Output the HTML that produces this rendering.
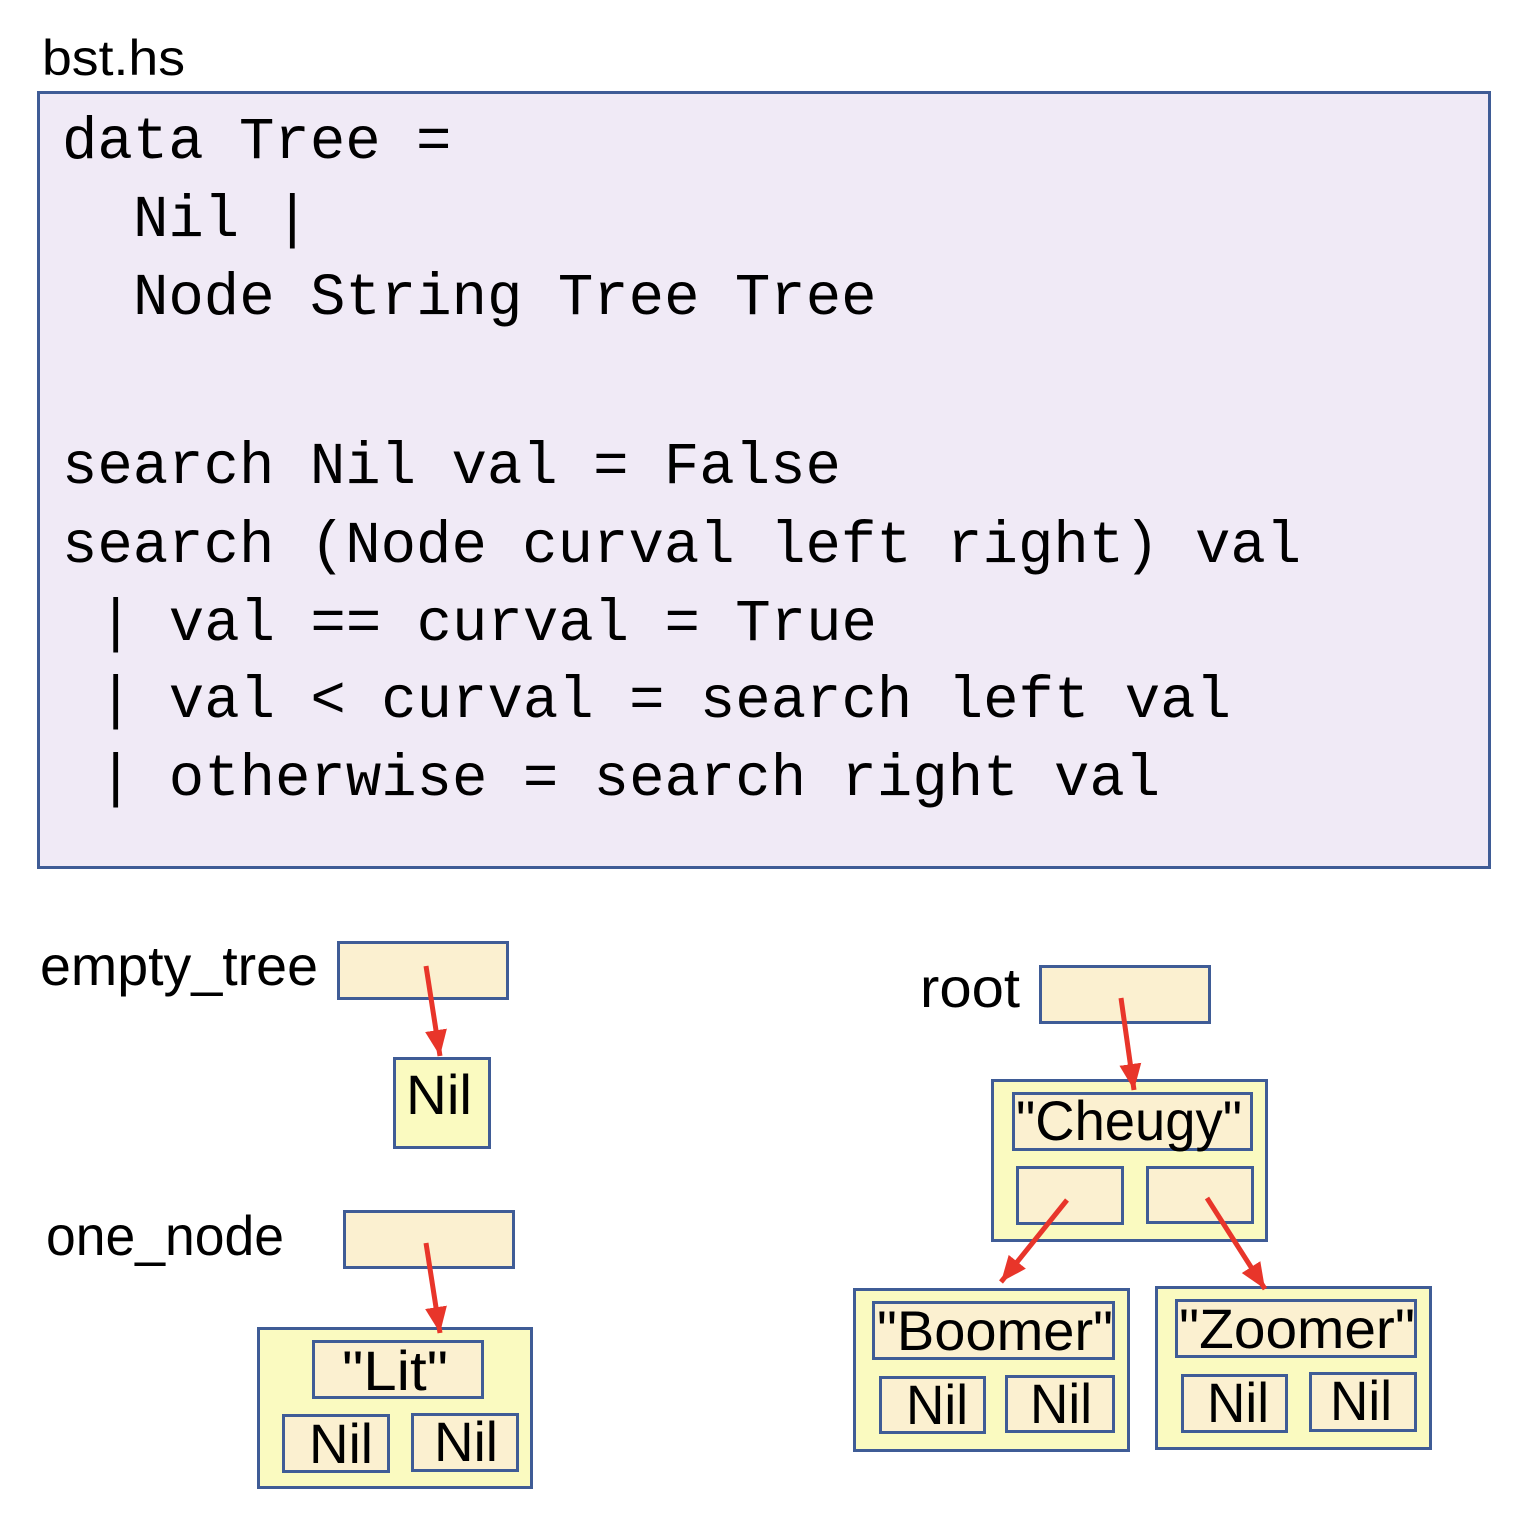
<!DOCTYPE html>
<html><head><meta charset="utf-8"><style>html,body{margin:0;padding:0;background:#fff}svg{display:block}.m text{white-space:pre}</style></head><body>
<svg width="1520" height="1522" viewBox="0 0 1520 1522" xmlns="http://www.w3.org/2000/svg">
<defs><marker id="a" markerUnits="userSpaceOnUse" markerWidth="28" markerHeight="24" refX="26" refY="11" orient="auto"><path d="M0,0 L26,11 L0,22 Z" fill="#E8352A"/></marker></defs>
<g font-family="Liberation Sans, DejaVu Sans, sans-serif" fill="#000">
<text x="42" y="75" font-size="50" textLength="143" lengthAdjust="spacingAndGlyphs">bst.hs</text>
</g>
<rect x="38.5" y="92.5" width="1451" height="775" fill="#F0EAF6" stroke="#3F5C96" stroke-width="3"/>
<g class="m" font-family="Liberation Mono, DejaVu Sans Mono, monospace" font-size="59" fill="#000">
<text x="62" y="158">data Tree =</text>
<text x="133" y="236">Nil |</text>
<text x="133" y="314">Node String Tree Tree</text>
<text x="62" y="483">search Nil val = False</text>
<text x="62" y="562">search (Node curval left right) val</text>
<text x="98" y="640">| val == curval = True</text>
<text x="98" y="717">| val &lt; curval = search left val</text>
<text x="98" y="795">| otherwise = search right val</text>
</g>
<g stroke="#3F5C96" stroke-width="3">
<rect x="338.5" y="942.5" width="169" height="56" fill="#FBF0D0"/>
<rect x="394.5" y="1058.5" width="95" height="89" fill="#FAFAC0"/>
<rect x="344.5" y="1211.5" width="169" height="56" fill="#FBF0D0"/>
<rect x="258.5" y="1328.5" width="273" height="159" fill="#FAFAC0"/>
<rect x="313.5" y="1341.5" width="169" height="56" fill="#FBF0D0"/>
<rect x="283.5" y="1415.5" width="105" height="56" fill="#FBF0D0"/>
<rect x="412.5" y="1414.5" width="105" height="56" fill="#FBF0D0"/>
<rect x="1040.5" y="966.5" width="169" height="56" fill="#FBF0D0"/>
<rect x="992.5" y="1080.5" width="274" height="160" fill="#FAFAC0"/>
<rect x="1013.5" y="1093.5" width="238" height="56" fill="#FBF0D0"/>
<rect x="1017.5" y="1167.5" width="105" height="56" fill="#FBF0D0"/>
<rect x="1147.5" y="1167.5" width="105" height="55" fill="#FBF0D0"/>
<rect x="854.5" y="1289.5" width="274" height="161" fill="#FAFAC0"/>
<rect x="873.5" y="1302.5" width="240" height="56" fill="#FBF0D0"/>
<rect x="880.5" y="1377.5" width="104" height="55" fill="#FBF0D0"/>
<rect x="1006.5" y="1376.5" width="107" height="55" fill="#FBF0D0"/>
<rect x="1156.5" y="1287.5" width="274" height="161" fill="#FAFAC0"/>
<rect x="1176.5" y="1300.5" width="239" height="56" fill="#FBF0D0"/>
<rect x="1182.5" y="1375.5" width="104" height="56" fill="#FBF0D0"/>
<rect x="1310.5" y="1373.5" width="105" height="57" fill="#FBF0D0"/>
</g>
<g stroke="#E8352A" stroke-width="5" marker-end="url(#a)">
<line x1="426" y1="966" x2="440" y2="1056"/>
<line x1="426" y1="1243" x2="440" y2="1333"/>
<line x1="1121" y1="998" x2="1134" y2="1090"/>
<line x1="1067" y1="1200" x2="1001" y2="1282"/>
<line x1="1207" y1="1198" x2="1265" y2="1289"/>
</g>
<g font-family="Liberation Sans, DejaVu Sans, sans-serif" fill="#000" font-size="56" lengthAdjust="spacingAndGlyphs">
<text x="40" y="985" textLength="278" lengthAdjust="spacingAndGlyphs">empty_tree</text>
<text x="46" y="1255" textLength="238" lengthAdjust="spacingAndGlyphs">one_node</text>
<text x="920" y="1007" textLength="100" lengthAdjust="spacingAndGlyphs">root</text>
<text x="406" y="1114" textLength="66" lengthAdjust="spacingAndGlyphs">Nil</text>
<text x="342" y="1390" textLength="106" lengthAdjust="spacingAndGlyphs">"Lit"</text>
<text x="309" y="1463" textLength="64" lengthAdjust="spacingAndGlyphs">Nil</text>
<text x="434" y="1461" textLength="64" lengthAdjust="spacingAndGlyphs">Nil</text>
<text x="1016" y="1140" textLength="226" lengthAdjust="spacingAndGlyphs">"Cheugy"</text>
<text x="877" y="1350" textLength="236" lengthAdjust="spacingAndGlyphs">"Boomer"</text>
<text x="906" y="1424" textLength="62" lengthAdjust="spacingAndGlyphs">Nil</text>
<text x="1030" y="1423" textLength="62" lengthAdjust="spacingAndGlyphs">Nil</text>
<text x="1179" y="1348" textLength="236" lengthAdjust="spacingAndGlyphs">"Zoomer"</text>
<text x="1207" y="1422" textLength="62" lengthAdjust="spacingAndGlyphs">Nil</text>
<text x="1330" y="1420" textLength="62" lengthAdjust="spacingAndGlyphs">Nil</text>
</g>
</svg>
</body></html>
